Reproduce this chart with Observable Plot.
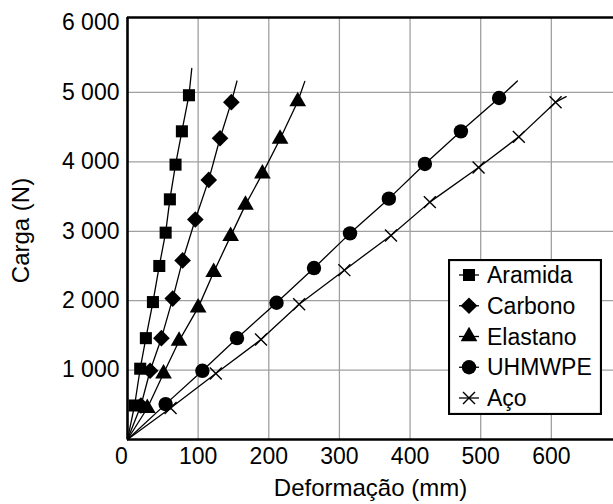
<!DOCTYPE html>
<html><head><meta charset="utf-8">
<script src="https://cdn.jsdelivr.net/npm/d3@7"></script>
<script src="https://cdn.jsdelivr.net/npm/@observablehq/plot@0.6"></script>
<style>
body{margin:0;background:#fff;font-family:"Liberation Sans",Arial,sans-serif}
#c{position:relative;width:613px;height:504px}
#legend{position:absolute;left:448px;top:259px}
</style>
</head><body><div id="c"></div><script>
// ---- data ----
const seriesNames = ["Aramida", "Carbono", "Elastano", "UHMWPE", "Aço"];
const aramidaDef  = [10, 18, 26, 36, 45, 54, 60, 68, 77, 87];
const aramidaLoad = [490, 1020, 1460, 1980, 2500, 2980, 3460, 3960, 4440, 4960];
const carbonoDef  = [19, 32, 48, 64, 78, 96, 115, 131, 147];
const carbonoLoad = [490, 990, 1460, 2030, 2580, 3170, 3740, 4340, 4860];
const elastanoDef  = [28, 51, 73, 100, 122, 146, 167, 191, 216, 241];
const elastanoLoad = [450, 950, 1420, 1900, 2410, 2930, 3380, 3830, 4330, 4870];
const uhmwpeDef  = [54, 106, 155, 211, 264, 315, 370, 421, 472, 526];
const uhmwpeLoad = [510, 990, 1460, 1970, 2470, 2970, 3470, 3970, 4440, 4920];
const acoDef  = [61, 125, 189, 243, 307, 373, 428, 497, 554, 606];
const acoLoad = [455, 950, 1440, 1950, 2440, 2940, 3420, 3920, 4360, 4860];
// end points of the fitted lines (beyond the last marker)
const fitEndDef  = [91, 155, 251, 552, 621];
const fitEndLoad = [5345, 5165, 5160, 5165, 4940];

const xTicks = [0, 100, 200, 300, 400, 500, 600];
const xTickLabels = ["0", "100", "200", "300", "400", "500", "600"];
const yTicks = [1000, 2000, 3000, 4000, 5000, 6000];
const yTickLabels = ["1 000", "2 000", "3 000", "4 000", "5 000", "6 000"];
const xDomain = [0, 688];
const yDomain = [0, 6080];
const xLabel = "Deformação (mm)";
const yLabel = "Carga (N)";

// ---- styles ----
const symbols = ["square", "diamond2", "triangle", "circle", "times"];
const radii = [6.8, 7.5, 6.2, 7.2, 5.5];
const d3Symbols = [d3.symbolSquare, d3.symbolDiamond2, d3.symbolTriangle, d3.symbolCircle, d3.symbolTimes];

const defs = [aramidaDef, carbonoDef, elastanoDef, uhmwpeDef, acoDef];
const loads = [aramidaLoad, carbonoLoad, elastanoLoad, uhmwpeLoad, acoLoad];

const pointRows = [];
const lineRows = [];
seriesNames.forEach((s, i) => {
  lineRows.push({s, x: 0, y: 0});
  defs[i].forEach((x, j) => {
    pointRows.push({s, i, x, y: loads[i][j]});
    lineRows.push({s, x, y: loads[i][j]});
  });
  lineRows.push({s, x: fitEndDef[i], y: fitEndLoad[i]});
});

const font = '"Liberation Sans", Arial, sans-serif';
const gridColor = "#a0a0a0";
const tickFont = 23;

const dotMarks = seriesNames.map((s, i) => {
  const data = pointRows.filter(d => d.i === i);
  const stroked = symbols[i] === "times";
  return Plot.dot(data, {
    x: "x", y: "y", symbol: () => symbols[i], r: radii[i],
    fill: stroked ? "none" : "black",
    stroke: stroked ? "black" : "none",
    strokeWidth: stroked ? 1.4 : 0
  });
});

const chart = Plot.plot({
  width: 613, height: 504,
  marginLeft: 127, marginRight: 0, marginTop: 17, marginBottom: 65,
  x: {domain: xDomain, axis: null},
  y: {domain: yDomain, axis: null},
  symbol: {type: "identity"},
  style: {fontFamily: font, fontSize: "22px", color: "black", background: "white", overflow: "visible"},
  marks: [
    Plot.ruleX(xTicks.filter(v => v > 0), {stroke: gridColor, strokeWidth: 1.3}),
    Plot.ruleY(yTicks.filter(v => v < 6000), {stroke: gridColor, strokeWidth: 1.3}),
    Plot.ruleX([xDomain[0]], {stroke: "black", strokeWidth: 2.6}),
    Plot.ruleY([yDomain[0]], {stroke: "black", strokeWidth: 2.6}),
    Plot.ruleY([yDomain[1]], {stroke: "black", strokeWidth: 2.6}),
    Plot.line(lineRows, {x: "x", y: "y", z: "s", stroke: "black", strokeWidth: 1.3}),
    ...dotMarks,
    Plot.text(xTicks.filter(v => v > 0), {x: d => d, y: 0, text: d => xTickLabels[xTicks.indexOf(d)], dy: 17, fontSize: tickFont, fill: "black"}),
    Plot.text(xTicks.filter(v => v === 0), {x: d => d, y: 0, text: d => xTickLabels[xTicks.indexOf(d)], dy: 17, dx: -6, fontSize: tickFont, fill: "black"}),
    Plot.text(yTicks, {x: 0, y: d => d, text: (d, i) => yTickLabels[i], textAnchor: "end", dx: -8, fontSize: tickFont, fill: "black"}),
    Plot.text([xLabel], {frameAnchor: "bottom", dy: 56, fontSize: 24, fill: "black"}),
    Plot.text([yLabel], {frameAnchor: "left", textAnchor: "middle", dx: -106, dy: 2, rotate: -90, fontSize: 24, fill: "black"})
  ]
});
document.getElementById("c").appendChild(chart);

// ---- legend ----
const lw = 154, lh = 156;
const leg = d3.select("#c").append("svg").attr("id", "legend")
  .attr("width", lw).attr("height", lh)
  .style("font-family", font);
leg.append("rect").attr("x", 1).attr("y", 1).attr("width", lw - 2).attr("height", lh - 2)
  .attr("fill", "white").attr("stroke", "black").attr("stroke-width", 2.2);
seriesNames.forEach((s, i) => {
  const cy = 16 + i * 30.75;
  const g = leg.append("g").attr("transform", `translate(0,${cy})`);
  g.append("line").attr("x1", 11).attr("x2", 31).attr("y1", 0).attr("y2", 0)
    .attr("stroke", "black").attr("stroke-width", 1.3);
  const stroked = symbols[i] === "times";
  g.append("path").attr("transform", "translate(21,0)")
    .attr("d", d3.symbol(d3Symbols[i], Math.PI * radii[i] * radii[i])())
    .attr("fill", stroked ? "none" : "black")
    .attr("stroke", stroked ? "black" : "none")
    .attr("stroke-width", 1.4);
  g.append("text").attr("x", 39).attr("y", 0).attr("dy", "0.35em")
    .attr("font-size", 23).attr("fill", "black").text(s);
});
</script></body></html>
